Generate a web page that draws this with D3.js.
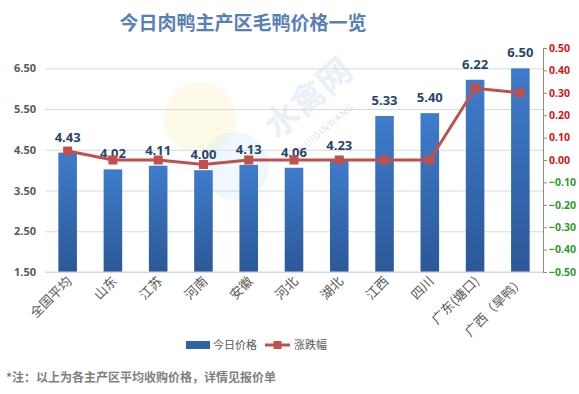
<!DOCTYPE html>
<html>
<head>
<meta charset="utf-8">
<script src="https://cdn.jsdelivr.net/npm/d3@7"></script>
<style>
  body { margin: 0; background: #fff; }
  text { font-family: "Open Sans", "Noto Sans CJK SC", sans-serif; }
  .cjk { font-family: "Noto Sans CJK SC", sans-serif; }
</style>
</head>
<body>
<div id="chart"></div>
<script>
// data
const regions = ["全国平均", "山东", "江苏", "河南", "安徽", "河北", "湖北", "江西", "四川", "广东(塘口)", "广西（旱鸭）"];
const prices = [4.43, 4.02, 4.11, 4.00, 4.13, 4.06, 4.23, 5.33, 5.40, 6.22, 6.50];
const changes = [0.04, 0.00, 0.00, -0.02, 0.00, 0.00, 0.00, 0.00, 0.00, 0.32, 0.30];
const priceTicks = [1.5, 2.5, 3.5, 4.5, 5.5, 6.5];
const changeTicks = [-0.5, -0.4, -0.3, -0.2, -0.1, 0, 0.1, 0.2, 0.3, 0.4, 0.5];

const W = 579, H = 394;
const m = { top: 48, right: 36, bottom: 122, left: 45 };
const iw = W - m.left - m.right, ih = H - m.top - m.bottom;

const svg = d3.select("#chart").append("svg").attr("width", W).attr("height", H);

const defs = svg.append("defs");
const grad = defs.append("linearGradient").attr("id", "barGrad")
  .attr("x1", 0).attr("y1", 0).attr("x2", 0).attr("y2", 1);
grad.append("stop").attr("offset", "0%").attr("stop-color", "#3f7ccb");
grad.append("stop").attr("offset", "100%").attr("stop-color", "#2b5897");

// title
svg.append("text").attr("class", "cjk")
  .attr("x", 243).attr("y", 30)
  .attr("text-anchor", "middle")
  .attr("font-size", 19).attr("font-weight", "bold")
  .attr("fill", "#5a7fb6")
  .text("今日肉鸭主产区毛鸭价格一览");

const g = svg.append("g").attr("transform", `translate(${m.left},${m.top})`);

const x = d3.scaleBand().domain(regions).range([0, iw]).paddingInner(0.59).paddingOuter(0.295);
const y = d3.scaleLinear().domain([1.5, 7.0]).range([ih, 0]);
const y2 = d3.scaleLinear().domain([-0.5, 0.5]).range([ih, 0]);

// faint watermark
const wm = g.append("g");
wm.append("circle").attr("cx", 155).attr("cy", 70).attr("r", 36).attr("fill", "#f6eaa0").attr("opacity", 0.25);
wm.append("circle").attr("cx", 190).attr("cy", 118).attr("r", 34).attr("fill", "#bfe2f3").attr("opacity", 0.25);
wm.append("text").attr("class", "cjk")
  .attr("transform", "translate(232,92) rotate(-40)")
  .attr("font-size", 34).attr("font-weight", "bold").attr("fill", "#8fb2dc").attr("opacity", 0.18)
  .text("水禽网");
wm.append("text")
  .attr("transform", "translate(252,108) rotate(-40)")
  .attr("font-size", 9).attr("fill", "#9a9a9a").attr("letter-spacing", 1).attr("opacity", 0.3)
  .text("SHUIQINWANG");

// gridlines + left axis
const yAxis = d3.axisLeft(y).tickValues(priceTicks).tickSize(-iw).tickFormat(d3.format(".2f"));
g.append("g").call(yAxis)
  .call(s => s.select(".domain").remove())
  .call(s => s.selectAll(".tick line").attr("stroke", "#d9d9d9"))
  .call(s => s.selectAll(".tick text").attr("x", -9)
    .attr("fill", "#595959").attr("font-size", 11).attr("font-weight", "bold"));

// bars
g.selectAll("rect.bar").data(prices).enter().append("rect")
  .attr("class", "bar")
  .attr("x", (d, i) => x(regions[i]))
  .attr("y", d => y(d))
  .attr("width", x.bandwidth())
  .attr("height", d => ih - y(d))
  .attr("fill", "url(#barGrad)");

// bar labels
g.selectAll("text.val").data(prices).enter().append("text")
  .attr("class", "val")
  .attr("x", (d, i) => x(regions[i]) + x.bandwidth() / 2)
  .attr("y", d => y(d) - 11)
  .attr("text-anchor", "middle")
  .attr("font-size", 13).attr("font-weight", "bold")
  .attr("fill", "#27446a")
  .text(d => d.toFixed(2));

// right axis
const y2Axis = d3.axisRight(y2).tickValues(changeTicks).tickSize(4).tickSizeOuter(0).tickFormat(d3.format(".2f"));
g.append("g").attr("transform", `translate(${iw},0)`).call(y2Axis)
  .call(s => s.select(".domain").attr("stroke", "#8c8c8c"))
  .call(s => s.selectAll(".tick line").attr("stroke", "#8c8c8c"))
  .call(s => s.selectAll(".tick text").attr("x", 6)
    .attr("font-size", 10.5).attr("font-weight", "bold")
    .attr("fill", d => d < 0 ? "#2e9a2e" : "#d01818"));

// bottom baseline
g.append("line").attr("x1", 0).attr("x2", iw).attr("y1", ih).attr("y2", ih).attr("stroke", "#d9d9d9");

// line series
const cx = (d, i) => x(regions[i]) + x.bandwidth() / 2;
const line = d3.line().x(cx).y(d => y2(d));
g.append("path").datum(changes)
  .attr("d", line)
  .attr("fill", "none").attr("stroke", "#c0504d").attr("stroke-width", 3);
g.selectAll("rect.mk").data(changes).enter().append("rect")
  .attr("class", "mk")
  .attr("x", (d, i) => cx(d, i) - 4.5)
  .attr("y", d => y2(d) - 4.5)
  .attr("width", 9).attr("height", 9)
  .attr("fill", "#c0504d");

// x labels
g.selectAll("text.cat").data(regions).enter().append("text")
  .attr("class", "cat cjk")
  .attr("transform", d => `translate(${x(d) + x.bandwidth() / 2 + 5},${ih + 10}) rotate(-45)`)
  .attr("text-anchor", "end")
  .attr("font-size", 13)
  .attr("fill", "#595959")
  .text(d => d);

// legend
const lg = svg.append("g").attr("transform", "translate(186,345)");
lg.append("rect").attr("x", 0).attr("y", -4).attr("width", 24).attr("height", 8).attr("fill", "#2f63a8");
lg.append("text").attr("class", "cjk").attr("x", 27).attr("y", 4)
  .attr("font-size", 11).attr("fill", "#595959").text("今日价格");
lg.append("line").attr("x1", 79).attr("x2", 104).attr("y1", 0).attr("y2", 0)
  .attr("stroke", "#c0504d").attr("stroke-width", 3);
lg.append("rect").attr("x", 87.5).attr("y", -4).attr("width", 8).attr("height", 8).attr("fill", "#c0504d");
lg.append("text").attr("class", "cjk").attr("x", 108).attr("y", 4)
  .attr("font-size", 11).attr("fill", "#595959").text("涨跌幅");

// footnote
svg.append("text").attr("class", "cjk")
  .attr("x", 6).attr("y", 382)
  .attr("font-size", 12).attr("font-weight", "bold")
  .attr("fill", "#7f7f7f")
  .text("*注：以上为各主产区平均收购价格，详情见报价单");
</script>
</body>
</html>
